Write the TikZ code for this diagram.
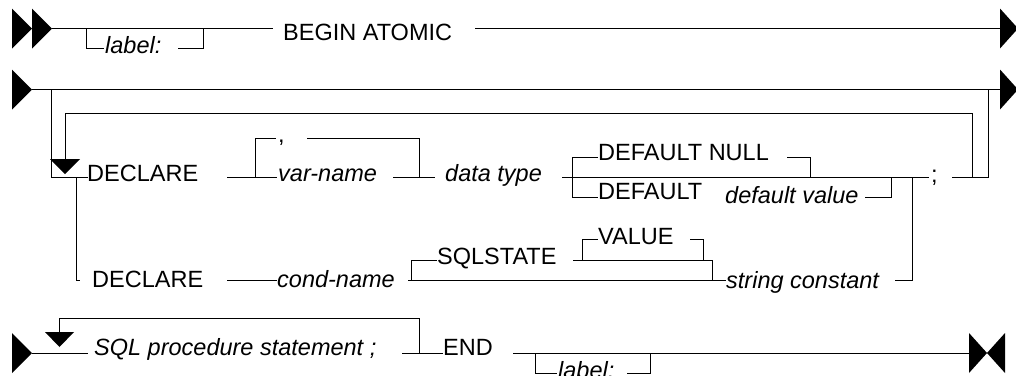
\documentclass[tikz,border=0pt]{standalone}
\usepackage{fontspec}
\setmainfont{Liberation Sans}
\begin{document}
\begin{tikzpicture}[x=1pt,y=-1pt,
  rail/.style={draw=black, line width=1pt},
  kw/.style={anchor=base west, inner sep=0pt, font=\fontsize{23.5}{25}\selectfont},
  var/.style={kw, font=\fontsize{23.5}{25}\selectfont\itshape},
  tip/.style={fill=black}]
\useasboundingbox (0,0) rectangle (1016,375);
% ---------- row 1 ----------
\fill[tip] (12,8.5) -- (32,28.5) -- (12,48.5) -- cycle;
\fill[tip] (32,8.5) -- (52,28.5) -- (32,48.5) -- cycle;
\fill[tip] (1000,8.5) -- (1018,28.5) -- (1000,48.5) -- cycle;
\coordinate (r1s) at (52,28.5);
\coordinate (r1e) at (1000,28.5);
\node[kw] (begin) at (283,40) {BEGIN ATOMIC};
\draw[rail] (r1s) -- (273,28.5);
\draw[rail] (475,28.5) -- (r1e);
\node[var] (lab1) at (105,53) {label:};
\draw[rail] (86,28.5) |- (104,48);
\draw[rail] (178,48) -| (203,28.5);
% ---------- row 2 ----------
\fill[tip] (12,69.5) -- (32,89.5) -- (12,109.5) -- cycle;
\fill[tip] (1000,69.5) -- (1018,89.5) -- (1000,109.5) -- cycle;
\coordinate (r2s) at (32,89.5);
\coordinate (r2e) at (1000,89.5);
\draw[rail] (r2s) -- (r2e);
\draw[rail] (51.5,89.5) |- (88,177);
\draw[rail] (988,89.5) |- (952,177);
\draw[rail] (972,177) |- (65,113) -- (65,159);
\fill[tip] (50,159) -- (80,159) -- (65,174) -- cycle;
% declare variable
\node[kw] (decl1) at (87,181) {DECLARE};
\draw[rail] (227,177) -- (277,177);
\draw[rail] (255,177) |- (276,138);
\node[kw] (comma) at (278,142) {,};
\draw[rail] (307,138) -| (419,177);
\node[var] (varname) at (278,181) {var-name};
\draw[rail] (393,177) -- (435,177);
\node[var] (dtype) at (445,181) {data type};
\draw[rail] (562,177) -- (929,177);
\node[kw] (semi) at (931,182) {;};
\draw[rail] (598,157) -| (572,197) -- (598,197);
\node[kw] (dnull) at (598,160) {DEFAULT NULL};
\draw[rail] (787,157) -| (810,177);
\node[kw] (dflt) at (598,199.5) {DEFAULT};
\node[var] (dval) at (725,203) {default value};
\draw[rail] (865,197) -| (891,177);
% declare condition
\draw[rail] (76,177) |- (80,280);
\node[kw] (decl2) at (92,287) {DECLARE};
\draw[rail] (227,280) -- (277,280);
\node[var] (cond) at (277,287) {cond-name};
\draw[rail] (408,280) -- (726,280);
\draw[rail] (411,280) |- (437,260);
\node[kw] (sqlstate) at (437,264) {SQLSTATE};
\draw[rail] (573,260) -| (712,280);
\draw[rail] (582,260) |- (598,239);
\node[kw] (value) at (598,244) {VALUE};
\draw[rail] (690,239) -| (703,260);
\node[var] (strc) at (726,288) {string constant};
\draw[rail] (895,280) -| (912.5,177);
% ---------- row 3 ----------
\fill[tip] (12,333) -- (32,353) -- (12,373) -- cycle;
\draw[rail] (32,353) -- (88,353);
\draw[rail] (419,353) |- (59.5,318) -- (59.5,332);
\fill[tip] (45,332) -- (74,332) -- (59.5,347) -- cycle;
\node[var] (sqlst) at (94,355.5) {SQL procedure statement ;};
\draw[rail] (402,353) -- (443,353);
\node[kw] (endk) at (443,355.5) {END};
\draw[rail] (513,353) -- (969,353);
\draw[rail] (535,353) |- (557,373);
\node[var] (lab2) at (558,378) {label:};
\draw[rail] (627,373) -| (650,353);
\fill[tip] (969,333) -- (987,353) -- (969,373) -- cycle;
\fill[tip] (1005,333) -- (987,353) -- (1005,373) -- cycle;
\end{tikzpicture}
\end{document}
